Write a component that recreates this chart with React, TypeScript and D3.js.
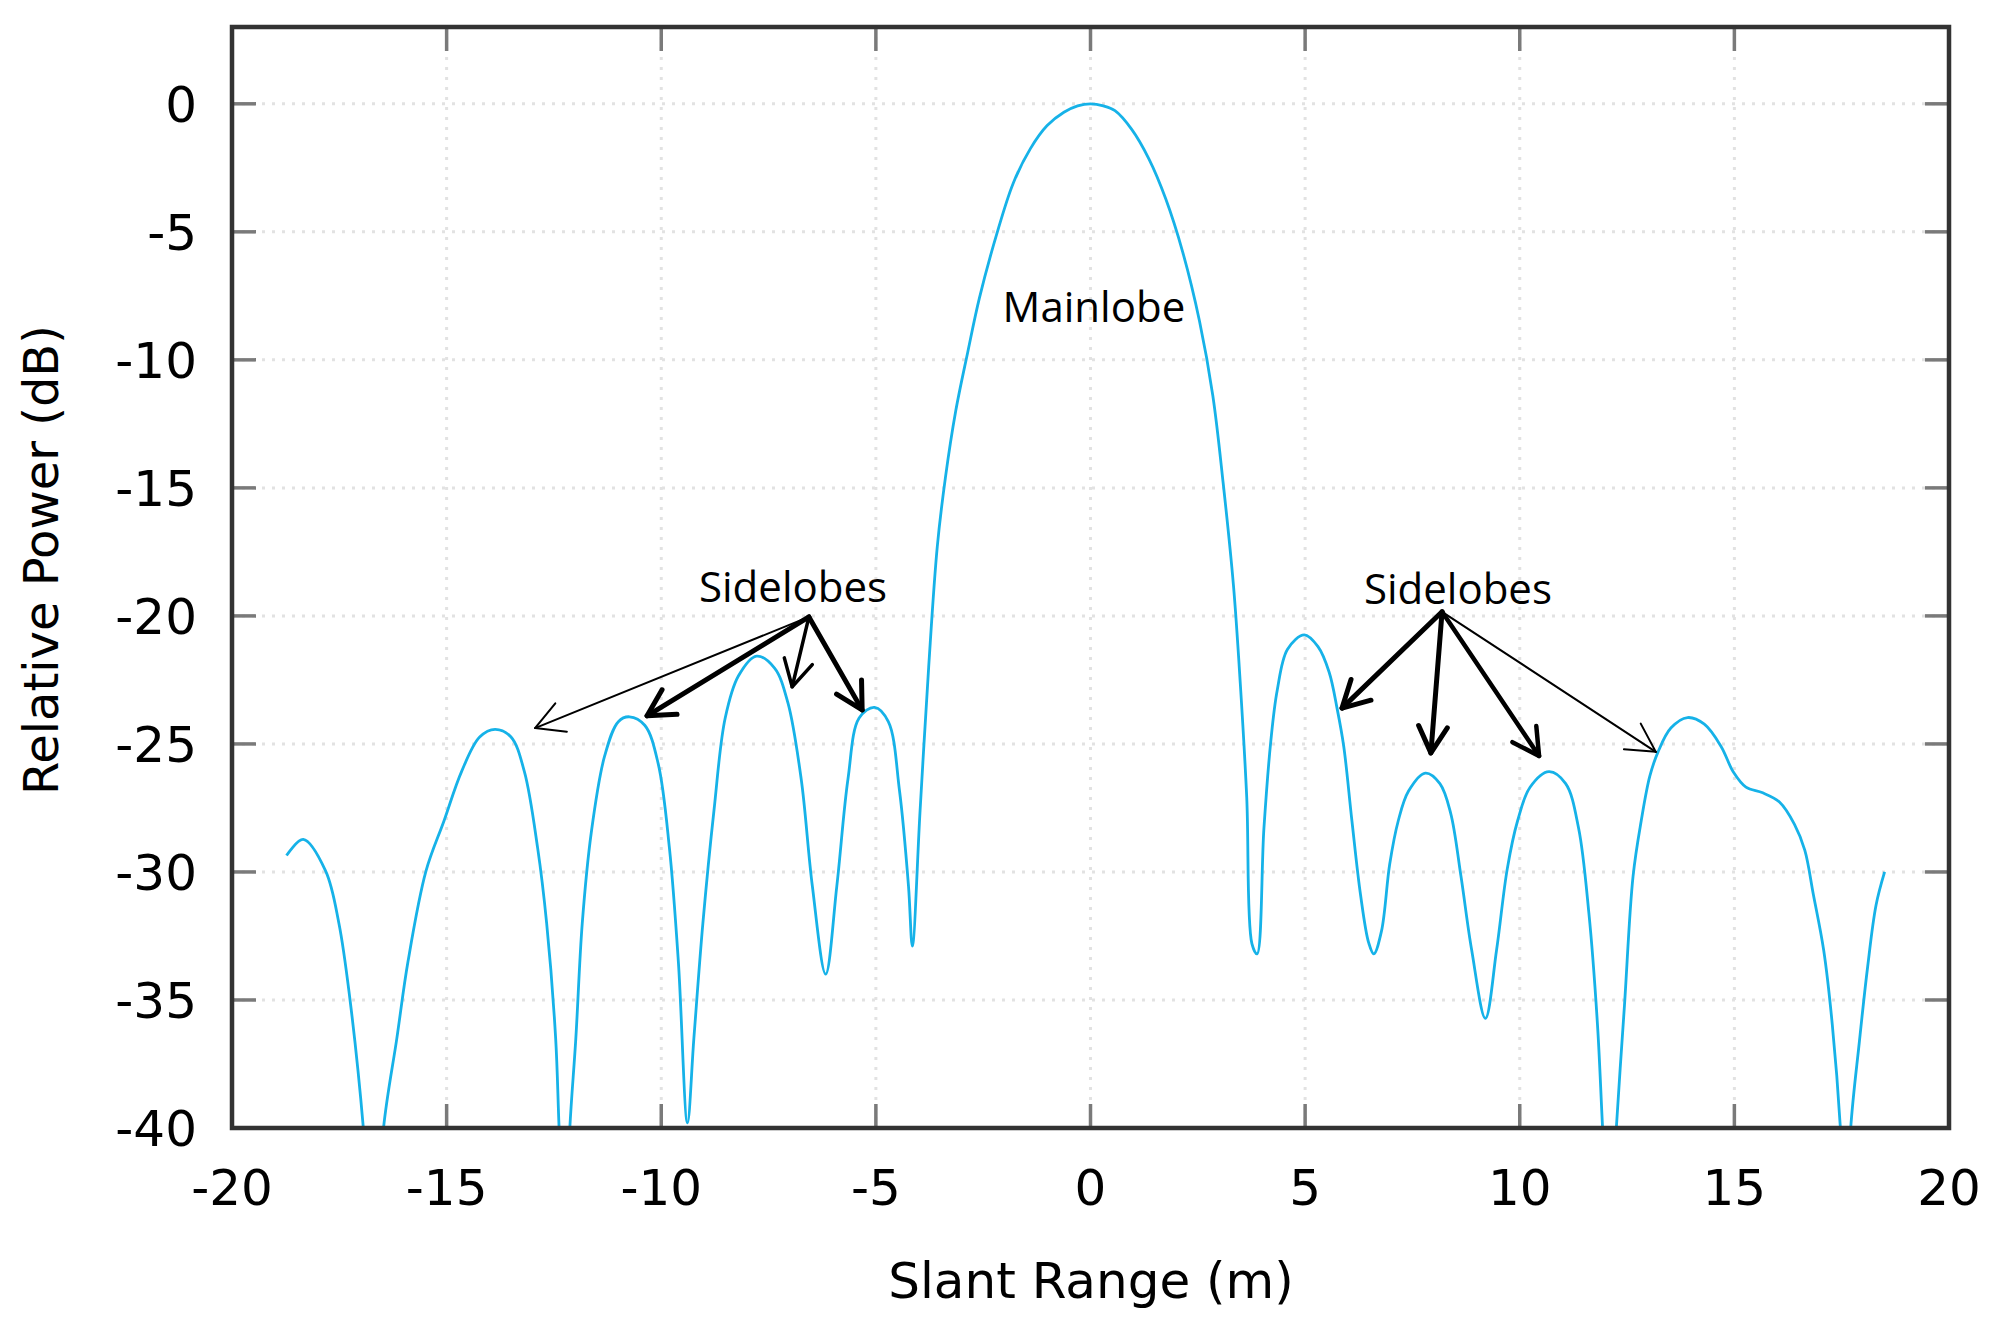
import React from "react";
import * as d3 from "d3";

const rangeX: number[] = [
  -18.73, -18.34, -17.82, -17.51, -17.25, -16.94, -16.7, -16.47, -16.16, -15.9, -15.48, -15.06, -14.65, -14.23,
  -13.87, -13.5, -13.19, -12.88, -12.67, -12.46, -12.38, -12.25, -12.13, -11.99, -11.84, -11.63, -11.32, -11.0,
  -10.74, -10.38, -10.07, -9.81, -9.6, -9.39, -9.24, -9.03, -8.77, -8.51, -8.2, -7.78, -7.36, -7.05, -6.74, -6.48,
  -6.17, -5.91, -5.65, -5.39, -5.03, -4.71, -4.45, -4.24, -4.15, -3.97, -3.77, -3.57, -3.38, -3.14, -2.86, -2.59,
  -2.19, -1.8, -1.4, -1.01, -0.62, -0.3, 0, 0.3, 0.57, 0.96, 1.36, 1.75, 2.15, 2.54, 2.85, 3.09, 3.33, 3.49, 3.64, 3.76, 3.88,
  4.04, 4.2, 4.35, 4.59, 4.98, 5.3, 5.56, 5.75, 5.9, 6.09, 6.29, 6.48, 6.6, 6.78, 6.97, 7.17, 7.41, 7.8, 8.14, 8.39,
  8.63, 8.88, 9.2, 9.46, 9.71, 9.95, 10.24, 10.68, 11.07, 11.37, 11.61, 11.81, 11.93, 12.09, 12.25, 12.44, 12.64,
  12.83, 13.03, 13.22, 13.52, 13.91, 14.3, 14.69, 14.98, 15.27, 15.66, 16.05, 16.4, 16.64, 16.84, 17.08, 17.28,
  17.47, 17.59, 17.71, 17.91, 18.1, 18.3, 18.5,
];

const powerDb: number[] = [
  -29.36, -28.73, -29.96, -32.0, -35.0, -40.0, -46, -40, -36.5, -33.5, -29.96, -28.0, -26.07, -24.73,
  -24.43, -24.73, -26.07, -29.06, -32.0, -36.5, -40, -45, -40, -36.5, -32, -28.46, -25.48, -24.13,
  -23.94, -24.28, -25.78, -29.06, -33.54, -39.8, -36.5, -32, -27.57, -23.99, -22.34, -21.57, -22.04, -23.39, -26.37, -30.55,
  -33.99, -30.55, -26.37, -23.99, -23.57, -24.13, -26.82, -30.55, -32.9, -27.6, -22.0, -17.3, -14.6, -12.0, -9.7, -7.6,
  -5.12, -3.1, -1.75, -0.85, -0.33, -0.08, 0, -0.08, -0.27, -1.0, -2.15, -3.7, -5.8, -8.49, -11.4, -14.8, -18.8, -22.65, -27.1, -32.8, -33.2,
  -28.3, -24.9, -22.9, -21.3, -20.74, -21.2, -22.2, -23.66, -25.1, -28.0, -30.88, -32.76, -33.2, -32.3, -29.7, -28.0, -26.84, -26.14, -26.55, -27.7,
  -30.16, -33.05, -35.72, -33.05, -29.87, -28.0, -26.69, -26.08, -26.55, -28.28, -31.6, -35.94, -40, -45, -40, -35.2, -30.16,
  -28.0, -26.26, -25.32, -24.38, -23.97, -24.23, -25.1, -26.11, -26.69, -26.91, -27.27, -28.14, -29.15, -30.88, -33.05, -35.94,
  -40, -45, -40, -36.66, -33.77, -31.3, -30.0,
];

const xTicks: number[] = [-20, -15, -10, -5, 0, 5, 10, 15, 20];
const yTicks: number[] = [0, -5, -10, -15, -20, -25, -30, -35, -40];

// annotation arrows (data coordinates): origin and tips
const leftOrigin: [number, number] = [-6.56, -20.04];
const leftTips: [number, number][] = [[-12.94, -24.38], [-10.33, -23.9], [-6.95, -22.77], [-5.32, -23.67]];
const leftWidths: number[] = [2, 5, 3.5, 5];
const rightOrigin: [number, number] = [8.19, -19.84];
const rightTips: [number, number][] = [[5.86, -23.6], [7.93, -25.35], [10.45, -25.47], [13.17, -25.31]];
const rightWidths: number[] = [5, 5, 4.5, 2];

const labels: { text: string; x: number; y: number }[] = [
  { text: "Sidelobes", x: -6.93, y: -19.45 },
  { text: "Sidelobes", x: 8.56, y: -19.53 },
  { text: "Mainlobe", x: 0.08, y: -8.52 },
];

const W = 2008;
const H = 1331;
const L = 232, R = 1949, T = 27, B = 1128;

export default function App() {
  const x = d3.scaleLinear().domain([-20, 20]).range([L, R]);
  const y = d3.scaleLinear().domain([-40, 3]).range([B, T]);
  const pts: [number, number][] = rangeX.map((v, i) => [v, powerDb[i]]);
  const line = d3
    .line<[number, number]>()
    .x((d) => x(d[0]))
    .y((d) => y(d[1]))
    .curve(d3.curveCatmullRom.alpha(0.5));
  const tickFont = "'DejaVu Sans', sans-serif";
  const annFont = "'Open Sans', sans-serif";

  const arrow = (o: [number, number], t: [number, number], w: number, key: string) => {
    const x0 = x(o[0]), y0 = y(o[1]), x1 = x(t[0]), y1 = y(t[1]);
    const ang = Math.atan2(y1 - y0, x1 - x0);
    const len = w > 3 ? 30 : 32;
    const spread = 0.5;
    const a1 = ang + Math.PI - spread, a2 = ang + Math.PI + spread;
    const p1 = [x1 + len * Math.cos(a1), y1 + len * Math.sin(a1)];
    const p2 = [x1 + len * Math.cos(a2), y1 + len * Math.sin(a2)];
    return (
      <g key={key} stroke="#000" fill="none" strokeLinecap="round" strokeLinejoin="round">
        <line x1={x0} y1={y0} x2={x1} y2={y1} strokeWidth={w} />
        <polyline points={`${p1[0]},${p1[1]} ${x1},${y1} ${p2[0]},${p2[1]}`} strokeWidth={w} />
      </g>
    );
  };

  return (
    <svg width={W} height={H} style={{ position: "absolute", left: 0, top: 0, background: "#fff" }}>
      <defs>
        <clipPath id="plotClip">
          <rect x={L} y={T} width={R - L} height={B - T} />
        </clipPath>
      </defs>
      <rect x={0} y={0} width={W} height={H} fill="#fff" />
      {/* grid */}
      <g stroke="#e2e2e2" strokeWidth={3} strokeDasharray="3 7">
        {xTicks.slice(1, -1).map((t) => (
          <line key={"gx" + t} x1={x(t)} x2={x(t)} y1={T} y2={B} />
        ))}
        {yTicks.slice(0, -1).map((t) => (
          <line key={"gy" + t} x1={L} x2={R} y1={y(t)} y2={y(t)} />
        ))}
      </g>
      {/* ticks */}
      <g stroke="#7a7a7a" strokeWidth={3.5}>
        {xTicks.slice(1, -1).map((t) => (
          <g key={"tx" + t}>
            <line x1={x(t)} x2={x(t)} y1={B} y2={B - 24} />
            <line x1={x(t)} x2={x(t)} y1={T} y2={T + 24} />
          </g>
        ))}
        {yTicks.slice(0, -1).map((t) => (
          <g key={"ty" + t}>
            <line x1={L} x2={L + 24} y1={y(t)} y2={y(t)} />
            <line x1={R} x2={R - 24} y1={y(t)} y2={y(t)} />
          </g>
        ))}
      </g>
      {/* curve */}
      <g clipPath="url(#plotClip)">
        <path d={line(pts) || ""} fill="none" stroke="#16b2e8" strokeWidth={2.8} strokeLinejoin="round" />
      </g>
      {/* frame */}
      <rect x={L} y={T} width={R - L} height={B - T} fill="none" stroke="#333" strokeWidth={4.5} />
      {/* tick labels */}
      <g fontFamily={tickFont} fontSize={50} fill="#000">
        {xTicks.map((t) => (
          <text key={"lx" + t} x={x(t)} y={1205} textAnchor="middle">
            {t}
          </text>
        ))}
        {yTicks.map((t) => (
          <text key={"ly" + t} x={197} y={y(t) + 18} textAnchor="end">
            {t}
          </text>
        ))}
      </g>
      {/* axis titles */}
      <text x={1091} y={1298} textAnchor="middle" fontFamily={tickFont} fontSize={50} fill="#000">
        Slant Range (m)
      </text>
      <text
        transform="translate(58,560) rotate(-90)"
        textAnchor="middle"
        fontFamily={tickFont}
        fontSize={48}
        fill="#000"
      >
        Relative Power (dB)
      </text>
      {/* annotations */}
      {leftTips.map((t, i) => arrow(leftOrigin, t, leftWidths[i], "la" + i))}
      {rightTips.map((t, i) => arrow(rightOrigin, t, rightWidths[i], "ra" + i))}
      <g fontFamily={annFont} fontSize={42} fill="#000">
        {labels.map((l, i) => (
          <text key={"an" + i} x={x(l.x)} y={y(l.y)} textAnchor="middle">
            {l.text}
          </text>
        ))}
      </g>
    </svg>
  );
}
